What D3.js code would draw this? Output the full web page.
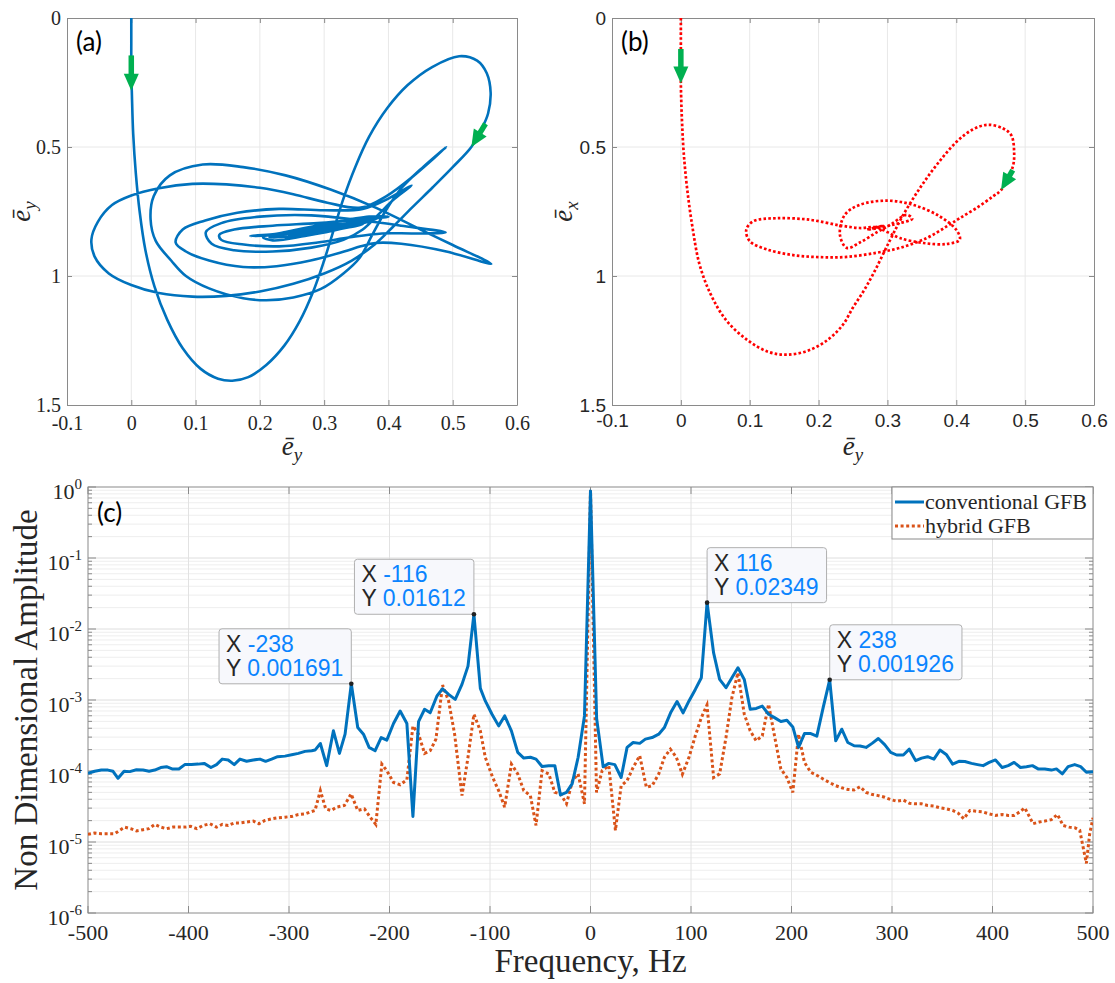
<!DOCTYPE html>
<html><head><meta charset="utf-8">
<script src="https://cdn.jsdelivr.net/npm/d3@7"></script>
<style>body{margin:0;background:#fff}</style>
</head><body><div id="chart"></div>
<script>
// ================= DATA =================
// Panel (a): conventional GFB trajectory [e_y, e_y]
const trajA = [
 [0,0],[0,0.1],[0,0.2],[0.001,0.3],[0.003,0.45],[0.007,0.6],[0.013,0.75],[0.022,0.9],[0.036,1.04],[0.056,1.17],[0.08,1.28],[0.108,1.36],[0.135,1.398],[0.157,1.406],[0.182,1.392],[0.21,1.345],[0.238,1.27],[0.262,1.175],[0.283,1.06],[0.3,0.94],[0.315,0.82],[0.33,0.70],[0.348,0.58],[0.37,0.46],[0.398,0.35],[0.43,0.26],[0.468,0.19],[0.51,0.148],[0.538,0.165],[0.553,0.214],[0.559,0.29],[0.555,0.37],[0.545,0.43],[0.529,0.5],[0.5,0.578],[0.469,0.656],[0.437,0.734],[0.406,0.812],[0.379,0.877],[0.343,0.94],
 [0.3,0.99],[0.252,1.03],[0.2,1.06],[0.148,1.077],[0.095,1.08],[0.043,1.066],[0,1.035],[-0.035,0.99],[-0.057,0.925],[-0.062,0.858],[-0.052,0.79],[-0.03,0.725],[0,0.688],[0.043,0.66],[0.095,0.643],[0.148,0.645],[0.2,0.658],[0.252,0.683],[0.305,0.716],[0.357,0.735],[0.397,0.69],[0.44,0.61],[0.49,0.5],
 [0.455,0.575],[0.42,0.66],[0.395,0.75],[0.375,0.84],[0.355,0.93],
 [0.33,0.99],[0.295,1.05],[0.252,1.083],[0.21,1.094],[0.174,1.086],[0.121,1.048],[0.085,1.0],[0.062,0.94],[0.038,0.864],[0.03,0.78],[0.035,0.69],[0.06,0.61],[0.111,0.568],[0.174,0.578],[0.24,0.61],[0.31,0.665],[0.38,0.735],[0.45,0.82],[0.5,0.88],[0.56,0.953],
 [0.49,0.905],[0.42,0.875],[0.38,0.872],[0.357,0.885],
 [0.331,0.905],[0.279,0.94],[0.226,0.962],[0.174,0.965],[0.121,0.94],[0.085,0.905],[0.069,0.87],[0.08,0.82],[0.115,0.785],[0.165,0.755],[0.23,0.74],[0.3,0.745],[0.36,0.74],[0.4,0.7],[0.436,0.649],
 [0.41,0.7],[0.385,0.76],[0.36,0.82],[0.33,0.86],
 [0.28,0.89],[0.22,0.905],[0.16,0.9],[0.125,0.875],[0.116,0.83],[0.14,0.795],[0.2,0.77],[0.28,0.765],[0.36,0.785],[0.42,0.805],[0.489,0.831],
 [0.44,0.835],[0.39,0.835],[0.34,0.85],
 [0.29,0.87],[0.23,0.885],[0.175,0.878],[0.14,0.86],[0.137,0.84],[0.16,0.82],[0.22,0.805],[0.29,0.795],[0.36,0.78],[0.4,0.77],
 [0.37,0.77],[0.3,0.80],[0.24,0.83],[0.205,0.85],[0.22,0.862],[0.27,0.845],[0.33,0.815],[0.385,0.775],[0.35,0.79],[0.28,0.815],[0.225,0.84],[0.215,0.85],[0.25,0.845],[0.31,0.82],[0.37,0.79],[0.34,0.80],[0.27,0.825],[0.23,0.84],[0.185,0.845],[0.22,0.838],[0.28,0.822],[0.35,0.80],[0.33,0.805],[0.27,0.83],[0.24,0.85],[0.26,0.848],[0.32,0.82],[0.36,0.8],[0.3,0.818],[0.26,0.835],[0.28,0.828]
];
// Panel (b): hybrid GFB trajectory [e_y, e_x]
const trajB = [
 [0,0],[0,0.12],[0,0.254],[0.0015,0.389],[0.004,0.517],[0.009,0.659],[0.017,0.813],[0.027,0.954],[0.043,1.069],[0.066,1.172],[0.097,1.249],[0.127,1.294],[0.154,1.305],[0.184,1.29],[0.212,1.25],[0.235,1.19],[0.25,1.122],[0.265,1.06],[0.279,0.994],[0.303,0.865],[0.323,0.763],[0.347,0.66],[0.371,0.571],[0.4,0.481],[0.424,0.432],[0.446,0.414],[0.468,0.428],[0.48,0.455],[0.484,0.519],[0.482,0.577],[0.465,0.667],[0.453,0.692],[0.429,0.737],[0.405,0.776],[0.386,0.808],[0.357,0.853],[0.318,0.891],[0.284,0.91],[0.241,0.926],[0.202,0.927],[0.163,0.919],[0.125,0.897],[0.1,0.865],[0.095,0.821],[0.105,0.788],[0.139,0.776],[0.187,0.782],[0.231,0.804],[0.26,0.814],[0.284,0.811],
 [0.3,0.83],[0.318,0.853],[0.352,0.872],[0.386,0.876],[0.405,0.859],[0.4,0.821],[0.376,0.769],[0.337,0.724],[0.299,0.708],[0.26,0.724],[0.238,0.763],[0.231,0.84],[0.241,0.891],[0.26,0.87],[0.285,0.83],
 [0.305,0.8],[0.328,0.763],[0.336,0.778],[0.31,0.8],[0.285,0.815],[0.27,0.82],[0.295,0.805],[0.28,0.812],[0.29,0.81]
];
// direction arrows [from, to] in data units
const arrowsA = [[[0,0.145],[0,0.282]],[[0.551,0.41],[0.529,0.5]]];
const arrowsB = [[[0,0.12],[0,0.254]],[[0.482,0.59],[0.465,0.667]]];
const phaseXTicks = [-0.1,0,0.1,0.2,0.3,0.4,0.5,0.6];
const phaseXTickLabels = ["-0.1","0","0.1","0.2","0.3","0.4","0.5","0.6"];
const phaseYTicks = [0,0.5,1,1.5];
const phaseYTickLabels = ["0","0.5","1","1.5"];

// Panel (c): spectra
const freqConv = [-500,-493.4,-486.7,-480.1,-475.1,-470.1,-464.1,-458.5,-451.8,-445.2,-439.2,-433.6,-427.6,-421.9,-416.3,-409.6,-403.7,-397,-390.4,-384.4,-377.7,-372.1,-366.4,-360.5,-354.5,-348.8,-342.2,-335.5,-328.9,-323.3,-317.3,-311.3,-304,-297.3,-290.7,-284.1,-277.4,-274.1,-268.8,-262.5,-255.8,-249.8,-244.2,-238,-231.6,-225.9,-220.3,-214.3,-208.3,-202.7,-196,-189.4,-182.7,-176.7,-171.1,-165.1,-159.5,-152.8,-147.2,-141.2,-134.6,-127.9,-121.9,-116,-109.6,-104.7,-98,-91.4,-85.4,-78.7,-72.4,-66.4,-59.8,-54.2,-48.2,-41.5,-35.5,-29.9,-23.9,-18.3,-12.3,-6,0,
 6.1,12.6,18.2,24.2,30.5,36.4,42.4,49,54.6,61.3,67.9,73.5,80.1,86.1,92.1,98,104.3,110.3,116,122.5,128.5,134.8,140.7,146.7,153,158.9,164.9,170.9,177.2,183.1,189.4,195.4,201.3,207,212.9,219.2,225.2,231.5,238,244,250,256,262.3,268.2,274.2,280.5,286.4,292.7,298.7,304.6,311.3,317.2,323.5,329.5,335.4,341.7,347.7,354.3,360.3,366.6,372.5,379.1,385.1,390.7,396.7,403,409.6,415.6,421.5,427.8,433.8,439.7,445.4,452,458.6,463.6,469.5,475.2,481.8,487.7,493.4,500];
const ampConv = [9.3e-5,9.9e-5,1.03e-4,1.03e-4,9.9e-5,7.9e-5,9.9e-5,9.8e-5,1.04e-4,1.03e-4,9.9e-5,1.03e-4,1.12e-4,1.15e-4,1.07e-4,1.07e-4,1.23e-4,1.23e-4,1.25e-4,1.28e-4,1.12e-4,1.23e-4,1.47e-4,1.43e-4,1.23e-4,1.47e-4,1.37e-4,1.43e-4,1.47e-4,1.37e-4,1.47e-4,1.59e-4,1.62e-4,1.69e-4,1.77e-4,1.89e-4,1.93e-4,1.97e-4,2.44e-4,1.19e-4,3.68e-4,1.77e-4,3.3e-4,1.691e-3,4.09e-4,3.3e-4,2.15e-4,1.93e-4,2.96e-4,2.72e-4,4.66e-4,7.0e-4,4.66e-4,2.29e-5,4.97e-4,7.4e-4,6.6e-4,1.14e-3,1.44e-3,1.2e-3,1.02e-3,1.66e-3,3.0e-3,1.612e-2,1.46e-3,9.7e-4,6.3e-4,4.32e-4,5.97e-4,3.68e-4,1.83e-4,1.52e-4,1.56e-4,1.47e-4,1.16e-4,1.19e-4,1.19e-4,4.61e-5,5.0e-5,6.6e-5,1.56e-4,5.97e-4,0.88,
 5.5e-4,1.15e-4,1.28e-4,1.23e-4,8.1e-5,2.15e-4,2.52e-4,2.45e-4,2.81e-4,2.96e-4,3.3e-4,4.09e-4,6.8e-4,9.5e-4,6.6e-4,9.7e-4,1.41e-3,2.06e-3,2.349e-2,4.6e-3,1.95e-3,1.49e-3,2.06e-3,2.84e-3,1.95e-3,7.4e-4,7.6e-4,8.2e-4,6.3e-4,5.65e-4,4.97e-4,5.2e-4,4.18e-4,2.15e-4,3.37e-4,3.37e-4,3.1e-4,7.8e-4,1.926e-3,2.66e-4,3.88e-4,2.52e-4,2.27e-4,2.25e-4,2.15e-4,2.47e-4,2.87e-4,2.35e-4,1.83e-4,1.68e-4,1.68e-4,2.03e-4,1.4e-4,1.52e-4,1.59e-4,1.47e-4,1.97e-4,1.69e-4,1.25e-4,1.37e-4,1.36e-4,1.28e-4,1.23e-4,1.19e-4,1.32e-4,1.43e-4,1.12e-4,1.19e-4,1.32e-4,1.12e-4,1.15e-4,1.19e-4,1.07e-4,1.07e-4,1.03e-4,1.07e-4,9.1e-5,1.15e-4,1.23e-4,1.15e-4,9.6e-5,9.8e-5];
const freqHyb = [-500,-493.4,-486.7,-480.1,-473.4,-468.4,-463.5,-457.5,-451.8,-445.2,-439.5,-433.6,-427.6,-421.9,-415.3,-408.6,-403.7,-397.7,-391.7,-385.4,-378.7,-372.1,-366.4,-360.5,-354.5,-348.8,-342.2,-335.5,-329.9,-323.9,-317.3,-311.3,-304,-297.3,-290.7,-284.1,-279.1,-274.1,-268.8,-263.5,-258.1,-252.5,-244.9,-238.2,-231.6,-224.9,-219.3,-213.6,-207.6,-202.7,-196,-189.4,-182.7,-176.7,-171.1,-165.1,-159.5,-153.8,-147.2,-141.2,-135.2,-127.9,-121.9,-116,-109.6,-104.7,-97.3,-91.4,-85.4,-78.7,-72.4,-66.4,-59.8,-54.2,-48.2,-41.5,-35.5,-29.9,-23.9,-17.9,-12.3,-6,0,
 6,11.6,18.2,24.8,30.5,36.4,42.4,49,55.6,61.3,67.9,73.5,79.5,85.4,91.4,98,104.3,110.3,115.9,122.5,128.5,134.8,140.7,146.7,153,158.9,164.9,170.9,177.2,183.1,189.4,195.4,201.3,207,212.9,219.2,225.2,231.5,237.7,244,250,256,262.3,268.2,274.2,280.5,286.4,292.7,298.7,304.6,311.3,317.2,323.5,329.5,335.4,341.7,347.7,354.3,360.3,365.9,371.5,377.5,384.1,390.1,396.7,403,409.6,415.6,421.5,427.2,432.1,440.4,446.4,452,458.6,464.6,470.2,476.2,481.8,486.8,493.4,496.7,500];
const ampHyb = [1.28e-5,1.34e-5,1.31e-5,1.31e-5,1.31e-5,1.46e-5,1.62e-5,1.54e-5,1.43e-5,1.49e-5,1.54e-5,1.77e-5,1.62e-5,1.54e-5,1.62e-5,1.62e-5,1.62e-5,1.66e-5,1.54e-5,1.71e-5,1.81e-5,1.62e-5,1.77e-5,1.71e-5,1.85e-5,1.85e-5,1.91e-5,1.97e-5,1.81e-5,2.01e-5,2.12e-5,2.19e-5,2.24e-5,2.29e-5,2.44e-5,2.49e-5,2.64e-5,2.78e-5,5.3e-5,2.93e-5,2.78e-5,3.1e-5,3.27e-5,4.76e-5,2.78e-5,2.93e-5,2.24e-5,1.77e-5,1.25e-4,1.01e-4,6.9e-5,6.4e-5,7.5e-5,4.3e-4,3.3e-4,1.77e-4,1.93e-4,2.81e-4,1.62e-3,9.7e-4,3.3e-4,4.5e-5,1.56e-4,6.3e-4,3.68e-4,1.56e-4,8.1e-5,5.3e-5,3.1e-5,1.25e-4,9.1e-5,5.3e-5,4.5e-5,1.71e-5,1.01e-4,9.1e-5,5.0e-5,4.76e-5,3.45e-5,7.3e-5,9.1e-5,3.45e-5,0.9,
 5.0e-5,1.01e-4,1.19e-4,1.46e-5,6.2e-5,7.3e-5,1.12e-4,1.64e-4,5.9e-5,6.2e-5,9.1e-5,1.56e-4,2.03e-4,1.56e-4,9.0e-5,1.56e-4,3.13e-4,5.65e-4,8.5e-4,8.1e-5,9.1e-5,2.96e-4,1.08e-3,2.42e-3,6.3e-4,3.68e-4,2.66e-4,3.13e-4,8.7e-4,3.13e-4,1.07e-4,8.1e-5,5.0e-5,3.3e-4,1.32e-4,9.6e-5,8.7e-5,7.7e-5,6.9e-5,6.2e-5,5.8e-5,5.5e-5,5.4e-5,6.0e-5,5.0e-5,4.66e-5,4.5e-5,4.27e-5,3.96e-5,3.76e-5,3.9e-5,3.52e-5,3.45e-5,3.45e-5,3.27e-5,3.2e-5,3.03e-5,2.93e-5,2.78e-5,2.55e-5,2.12e-5,2.78e-5,2.71e-5,2.66e-5,2.49e-5,2.37e-5,2.44e-5,2.37e-5,2.37e-5,2.66e-5,3.03e-5,1.81e-5,1.91e-5,1.97e-5,2.06e-5,2.44e-5,1.71e-5,1.62e-5,1.59e-5,1.46e-5,5.0e-6,1.3e-5,2.19e-5];
const freqTicks = [-500,-400,-300,-200,-100,0,100,200,300,400,500];
const freqTickLabels = ["-500","-400","-300","-200","-100","0","100","200","300","400","500"];
const ampDecades = [0,-1,-2,-3,-4,-5,-6];
const seriesNames = ["conventional GFB","hybrid GFB"];
const tipFreq = [-238,-116,116,238];
const tipAmp = [0.001691,0.01612,0.02349,0.001926];
const tipFreqText = ["-238","-116","116","238"];
const tipAmpText = ["0.001691","0.01612","0.02349","0.001926"];

// ================= DRAWING =================
const W=1115,H=983;
const SERIF='"Liberation Serif","Times New Roman",serif';
const SANS='"Liberation Sans",Arial,Helvetica,sans-serif';
const LAB='Lato,"Open Sans",sans-serif';
const GRID="#e8e8e8", AX="#8a8a8a", TXT="#262626";
const svg=d3.select("#chart").append("svg").attr("width",W).attr("height",H);
svg.append("rect").attr("width",W).attr("height",H).attr("fill","#fff");

function arrow(g, x, y, a, color){
  const x1=x(a[0][0]), y1=y(a[0][1]), x2=x(a[1][0]), y2=y(a[1][1]);
  const dx=x2-x1, dy=y2-y1, L=Math.hypot(dx,dy), ux=dx/L, uy=dy/L;
  const hl=17, hw=7.5, bx=x2-ux*hl, by=y2-uy*hl;
  g.append("line").attr("x1",x1).attr("y1",y1).attr("x2",bx+ux*2).attr("y2",by+uy*2)
    .attr("stroke",color).attr("stroke-width",5.5);
  g.append("path").attr("d",`M${x2},${y2}L${bx-uy*hw},${by+ux*hw}L${bx+uy*hw},${by-ux*hw}Z`).attr("fill",color);
}

function eTitle(g, tx, ty, sub, rot){
  const t=g.append("text").attr("transform",`translate(${tx},${ty})`+(rot?" rotate(-90)":""))
    .attr("text-anchor","middle").attr("font-family",SERIF).attr("font-style","italic")
    .attr("font-size",27).attr("fill",TXT);
  t.append("tspan").text("\u0113");
  t.append("tspan").attr("font-size",19).attr("dy",6).text(sub);
}

function phasePanel(o){
  const x=d3.scaleLinear().domain([-0.1,0.6]).range([o.left,o.right]);
  const y=d3.scaleLinear().domain([0,1.5]).range([o.top,o.bottom]);
  const g=svg.append("g");
  g.append("g").selectAll("line").data(phaseXTicks.slice(1,-1)).join("line")
    .attr("x1",d=>x(d)).attr("x2",d=>x(d)).attr("y1",o.top).attr("y2",o.bottom).attr("stroke",GRID);
  g.append("g").selectAll("line").data(phaseYTicks.slice(1,-1)).join("line")
    .attr("y1",d=>y(d)).attr("y2",d=>y(d)).attr("x1",o.left).attr("x2",o.right).attr("stroke",GRID);
  const axes=[
    g.append("g").attr("transform",`translate(0,${o.bottom})`).call(d3.axisBottom(x).tickValues(phaseXTicks).tickFormat((d,i)=>phaseXTickLabels[i]).tickSize(-5).tickSizeOuter(0).tickPadding(o.xpad)),
    g.append("g").attr("transform",`translate(${o.left},0)`).call(d3.axisLeft(y).tickValues(phaseYTicks).tickFormat((d,i)=>phaseYTickLabels[i]).tickSize(-5).tickSizeOuter(0).tickPadding(o.ypad)),
    g.append("g").attr("transform",`translate(0,${o.top})`).call(d3.axisTop(x).tickValues(phaseXTicks).tickFormat("").tickSize(-5).tickSizeOuter(0)),
    g.append("g").attr("transform",`translate(${o.right},0)`).call(d3.axisRight(y).tickValues(phaseYTicks).tickFormat("").tickSize(-5).tickSizeOuter(0))
  ];
  axes.forEach(a=>{a.selectAll(".domain,.tick line").attr("stroke",AX);
    a.selectAll("text").attr("font-family",o.font).attr("font-size",o.fs).attr("fill",TXT);});
  const line=d3.line().x(d=>x(d[0])).y(d=>y(d[1])).curve(d3.curveCatmullRom.alpha(0.5));
  g.append("path").datum(o.traj).attr("d",line).attr("fill","none").attr("stroke",o.color)
    .attr("stroke-width",o.sw).attr("stroke-dasharray",o.dash).attr("stroke-linejoin","round");
  o.arrows.forEach(a=>arrow(g,x,y,a,"#00b050"));
  g.append("text").attr("x",o.left+9).attr("y",o.top+33).attr("font-family",LAB).attr("font-size",26).attr("fill","#000").text(o.label);
  eTitle(g,(o.left+o.right)/2,455,"y",false);
  eTitle(g,o.ytx,(o.top+o.bottom)/2,o.ysub,true);
}

phasePanel({left:67,right:517,top:18,bottom:405,traj:trajA,arrows:arrowsA,color:"#0072bd",sw:2.6,dash:null,
  font:SERIF,fs:20,xpad:11,ypad:6,label:"(a)",ysub:"y",ytx:30});
phasePanel({left:612,right:1094,top:18,bottom:405,traj:trajB,arrows:arrowsB,color:"#ff0000",sw:2.7,dash:"2.6,2.2",
  font:SANS,fs:19,xpad:9,ypad:6,label:"(b)",ysub:"x",ytx:572});

// ---- panel (c) ----
const cl=88, cr=1093, ct=487, cb=913;
const xC=d3.scaleLinear().domain([-500,500]).range([cl,cr]);
const yC=d3.scaleLog().domain([1e-6,1]).range([cb,ct]);
const gc=svg.append("g");
const minorVals=[];
ampDecades.slice(0,-1).forEach(e=>{for(let m=2;m<=9;m++) minorVals.push(m*Math.pow(10,e-1));});
const majorVals=ampDecades.map(e=>Math.pow(10,e));
gc.append("g").selectAll("line").data(minorVals).join("line")
  .attr("x1",cl).attr("x2",cr).attr("y1",d=>yC(d)).attr("y2",d=>yC(d)).attr("stroke","#eeeeee");
gc.append("g").selectAll("line").data(majorVals.slice(1,-1)).join("line")
  .attr("x1",cl).attr("x2",cr).attr("y1",d=>yC(d)).attr("y2",d=>yC(d)).attr("stroke","#dedede");
gc.append("g").selectAll("line").data(freqTicks.slice(1,-1)).join("line")
  .attr("x1",d=>xC(d)).attr("x2",d=>xC(d)).attr("y1",ct).attr("y2",cb).attr("stroke","#e2e2e2");
gc.append("rect").attr("x",cl).attr("y",ct).attr("width",cr-cl).attr("height",cb-ct).attr("fill","none").attr("stroke",AX);
[[cb,-1],[ct,1]].forEach(([yy,s])=>{
  gc.append("g").selectAll("line").data(freqTicks).join("line")
   .attr("x1",d=>xC(d)).attr("x2",d=>xC(d)).attr("y1",yy).attr("y2",yy+s*7).attr("stroke",AX);
});
[[cl,1],[cr,-1]].forEach(([xx,s])=>{
  gc.append("g").selectAll("line").data(majorVals).join("line")
   .attr("y1",d=>yC(d)).attr("y2",d=>yC(d)).attr("x1",xx).attr("x2",xx+s*8).attr("stroke",AX);
  gc.append("g").selectAll("line").data(minorVals).join("line")
   .attr("y1",d=>yC(d)).attr("y2",d=>yC(d)).attr("x1",xx).attr("x2",xx+s*4).attr("stroke",AX);
});
gc.append("g").selectAll("text").data(freqTicks).join("text")
  .attr("x",d=>xC(d)).attr("y",cb+27).attr("text-anchor","middle").attr("font-family",SERIF)
  .attr("font-size",22).attr("fill",TXT).text((d,i)=>freqTickLabels[i]);
ampDecades.forEach(e=>{
  const yy=yC(Math.pow(10,e));
  const t=gc.append("text").attr("x",cl-6).attr("y",yy+12).attr("text-anchor","end")
    .attr("font-family",SERIF).attr("font-size",22).attr("fill",TXT);
  t.append("tspan").text("10");
  t.append("tspan").attr("font-size",15).attr("dy",-10).text(String(e));
});
gc.append("text").attr("x",(cl+cr)/2).attr("y",972).attr("text-anchor","middle").attr("font-family",SERIF)
  .attr("font-size",33).attr("fill",TXT).text("Frequency, Hz");
gc.append("text").attr("transform",`translate(37,${(ct+cb)/2}) rotate(-90)`).attr("text-anchor","middle")
  .attr("font-family",SERIF).attr("font-size",33).attr("fill",TXT).text("Non Dimensional Amplitude");
svg.append("clipPath").attr("id","clipc").append("rect").attr("x",cl).attr("y",ct).attr("width",cr-cl).attr("height",cb-ct);
const lc=gc.append("g").attr("clip-path","url(#clipc)");
const lineC=d3.line().x(d=>xC(d[0])).y(d=>yC(d[1]));
lc.append("path").datum(d3.zip(freqHyb,ampHyb)).attr("d",lineC).attr("fill","none")
  .attr("stroke","#d95319").attr("stroke-width",3).attr("stroke-dasharray","3,2.6");
lc.append("path").datum(d3.zip(freqConv,ampConv)).attr("d",lineC).attr("fill","none")
  .attr("stroke","#0072bd").attr("stroke-width",3).attr("stroke-linejoin","round");
gc.append("text").attr("x",97).attr("y",522).attr("font-family",LAB).attr("font-size",26).attr("fill","#000").text("(c)");
// legend
const lg=gc.append("g");
lg.append("rect").attr("x",892).attr("y",ct).attr("width",cr-892).attr("height",52).attr("fill","#fff").attr("stroke",AX);
const legStyles=[{c:"#0072bd",d:null},{c:"#d95319",d:"3,2.6"}];
seriesNames.forEach((n,i)=>{
  const yy=502+i*24;
  lg.append("line").attr("x1",895).attr("x2",924).attr("y1",yy).attr("y2",yy).attr("stroke",legStyles[i].c)
    .attr("stroke-width",3).attr("stroke-dasharray",legStyles[i].d);
  lg.append("text").attr("x",925).attr("y",yy+7).attr("font-family",SERIF).attr("font-size",22).attr("fill",TXT).text(n);
});
// data tips
tipFreq.forEach((f,i)=>{
  const px=xC(f), py=yC(tipAmp[i]);
  const tg=gc.append("g");
  const box=tg.append("rect");
  const t1=tg.append("text").attr("font-family",SANS).attr("font-size",23);
  t1.append("tspan").attr("fill",TXT).text("X ");
  t1.append("tspan").attr("fill","#0a84ff").text(tipFreqText[i]);
  const t2=tg.append("text").attr("font-family",SANS).attr("font-size",23);
  t2.append("tspan").attr("fill",TXT).text("Y ");
  t2.append("tspan").attr("fill","#0a84ff").text(tipAmpText[i]);
  const w=Math.max(t1.node().getComputedTextLength(),t2.node().getComputedTextLength())+15;
  const h=55;
  const bx=f<0?px-w:px, by=py-h;
  box.attr("x",bx).attr("y",by).attr("width",w).attr("height",h).attr("rx",3)
    .attr("fill","#f7f8fc").attr("stroke","#b0b0b0");
  t1.attr("x",bx+7).attr("y",by+23);
  t2.attr("x",bx+7).attr("y",by+47);
  tg.append("circle").attr("cx",px).attr("cy",py).attr("r",2.3).attr("fill","#222");
});
</script></body></html>
